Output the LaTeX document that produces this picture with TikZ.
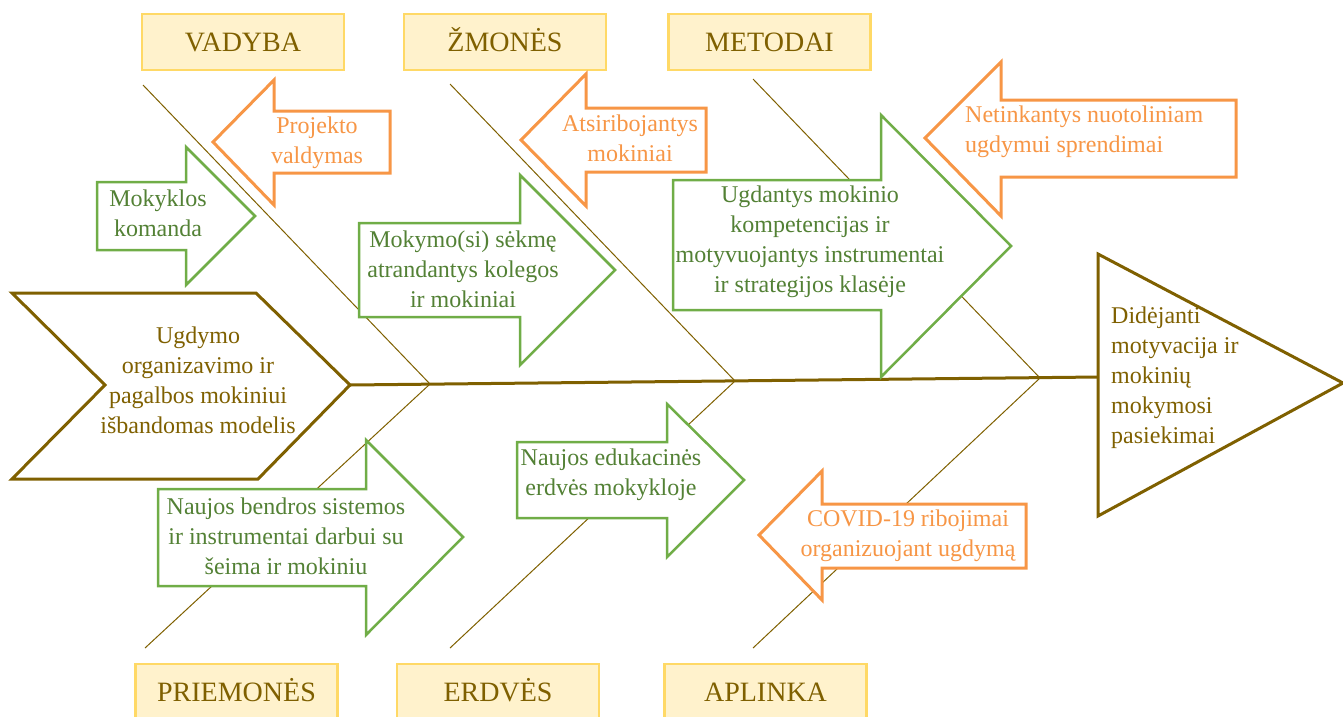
\documentclass[tikz,border=0pt]{standalone}
\usepackage{fontspec}
\setmainfont{Liberation Serif}
\newfontfamily\fishfont{Liberation Serif}
\usepackage{tikz}

\definecolor{bonecol}{HTML}{7F6000}
\definecolor{headfill}{HTML}{FFF2CC}
\definecolor{headline}{HTML}{FFD966}
\definecolor{goodline}{HTML}{70AD47}
\definecolor{goodtext}{HTML}{538135}
\definecolor{badline}{HTML}{F79646}

\begin{document}
\begin{tikzpicture}[x=1pt,y=-1pt,
  header/.style={draw=headline,fill=headfill,line width=2.5pt,minimum width=202pt,minimum height=56pt,
    text=bonecol,font=\fishfont\fontsize{28}{34}\selectfont,text height=19pt,text depth=0pt},
  good/.style={draw=goodline,fill=white,line width=2.5pt},
  bad/.style={draw=badline,fill=white,line width=3pt},
  goodtxt/.style={text=goodtext,align=center,inner sep=0pt,font=\fishfont\fontsize{24}{30}\selectfont},
  badtxt/.style={text=badline,align=center,inner sep=0pt,font=\fishfont\fontsize{24}{30}\selectfont},
  maintxt/.style={text=bonecol,align=center,inner sep=0pt,font=\fishfont\fontsize{24}{30}\selectfont},
  bone/.style={draw=bonecol,line width=1pt}]
\useasboundingbox (0,0) rectangle (1343,716);

% spine and bones
\coordinate (tail) at (350,385);
\coordinate (head) at (1098,377);
\coordinate (j1) at (430,384);
\coordinate (j2) at (735,381);
\coordinate (j3) at (1040,378);
\coordinate (u1) at (143,85);
\coordinate (u2) at (450,84);
\coordinate (u3) at (753,79);
\coordinate (d1) at (145,648);
\coordinate (d2) at (450,648);
\coordinate (d3) at (753,648);
\draw[bone] (u1) -- (j1) -- (d1);
\draw[bone] (u2) -- (j2) -- (d2);
\draw[bone] (u3) -- (j3) -- (d3);
\draw[bonecol,line width=3pt] (tail) -- (head);

% tail and head
\draw[bonecol,line width=3pt,fill=white,line join=miter] (12,293) -- (256,293) -- (tail) -- (258,479) -- (12,479) -- (105,385) -- cycle;
\draw[bonecol,line width=3pt,fill=white,line join=miter] (1098,254) -- (1343,383) -- (1098,516) -- cycle;
\node[maintxt] (model) at (198,380) {Ugdymo\\organizavimo ir\\pagalbos mokiniui\\išbandomas modelis};
\node[maintxt,anchor=west,align=left] (goal) at (1111,378) {Didėjanti\\motyvacija ir\\mokinių\\mokymosi\\pasiekimai};

% categories
\node[header] (vadyba) at (243,42) {VADYBA};
\node[header] (zmones) at (505,42) {ŽMONĖS};
\node[header] (metodai) at (769.5,42) {METODAI};
\node[header] (priemones) at (236.5,692) {PRIEMONĖS};
\node[header] (erdves) at (498,692) {ERDVĖS};
\node[header] (aplinka) at (765.5,692) {APLINKA};

% upper arrows
\draw[good] (97,182) -- (186,182) -- (186,147) -- (255,216) -- (186,285) -- (186,250) -- (97,250) -- cycle;
\node[goodtxt] (komanda) at (158,213) {Mokyklos\\komanda};
\draw[bad] (390,111) -- (274,111) -- (274,80) -- (213,142) -- (274,205) -- (274,173) -- (390,173) -- cycle;
\node[badtxt] (projektai) at (317,143) {Projekto\\valdymas};
\draw[good] (359,223) -- (520,223) -- (520,175) -- (615,270) -- (520,365) -- (520,317) -- (359,317) -- cycle;
\node[goodtxt] (kolegos) at (463,269) {Mokymo(si) sėkmę\\atrandantys kolegos\\ir mokiniai};
\draw[bad] (706,108) -- (586,108) -- (586,74) -- (521,140) -- (586,206) -- (586,172) -- (706,172) -- cycle;
\node[badtxt] (atsiribojantys) at (630,138) {Atsiribojantys\\mokiniai};
\draw[good] (673,180) -- (881,180) -- (881,115) -- (1011,246) -- (881,377) -- (881,310) -- (673,310) -- cycle;
\node[goodtxt] (strategijos) at (810,242) {Ugdantys mokinio\\kompetencijas ir\\motyvuojantys instrumentai\\ir strategijos klasėje};
\draw[bad] (1236,100) -- (1001,100) -- (1001,62) -- (925,138) -- (1001,216) -- (1001,177) -- (1236,177) -- cycle;
\node[badtxt,anchor=west,align=left] (nuotolinis) at (965,132) {Netinkantys nuotoliniam\\ugdymui sprendimai};

% lower arrows
\draw[good] (158,489) -- (366,489) -- (366,440) -- (463,537) -- (366,635) -- (366,586) -- (158,586) -- cycle;
\node[goodtxt] (sistemos) at (286,536) {Naujos bendros sistemos\\ir instrumentai darbui su\\šeima ir mokiniu};
\draw[good] (517,442) -- (667,442) -- (667,404) -- (744,480) -- (667,557) -- (667,518) -- (517,518) -- cycle;
\node[goodtxt] (erdve) at (611,475) {Naujos edukacinės\\erdvės mokykloje};
\draw[bad] (1026,504) -- (822,504) -- (822,471) -- (759,535) -- (822,600) -- (822,568) -- (1026,568) -- cycle;
\node[badtxt] (covid) at (908,536) {COVID-19 ribojimai\\organizuojant ugdymą};
\end{tikzpicture}
\end{document}
